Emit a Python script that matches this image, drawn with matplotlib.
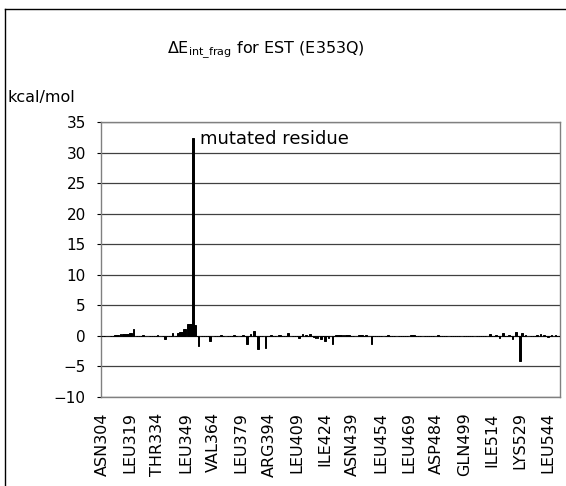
import numpy as np
import matplotlib
matplotlib.use("Agg")
import matplotlib.pyplot as plt
from matplotlib.lines import Line2D

plt.rcParams['font.family'] = ['DejaVu Sans']

# residues on the category axis
first_res = 304
last_res = 550
residues = np.arange(first_res, last_res + 1)

# non-zero interaction energies (kcal/mol)
nonzero_res = [311, 312, 313, 314, 315, 316, 317, 318, 319, 320, 321, 326, 334, 338, 342,
               345, 346, 347, 348, 349, 350, 351, 352, 353, 354, 356, 362, 368, 375, 380,
               382, 384, 386, 388, 392, 395, 399, 400, 404, 410, 412, 414, 416, 418, 419,
               420, 422, 424, 426, 428, 430, 431, 432, 433, 434, 435, 436, 437, 442, 443,
               444, 446, 449, 458, 470, 471, 472, 485, 513, 516, 518, 520, 523, 525, 527,
               529, 530, 532, 538, 540, 542, 544, 546, 548]
nonzero_val = [0.2, 0.2, 0.2, 0.25, 0.25, 0.25, 0.3, 0.3, 0.4, 0.4, 1.1, 0.2, 0.2, -0.5, 0.4,
               0.4, 0.6, 0.6, 1.1, 1.1, 1.9, 1.9, 1.9, 32.4, 1.75, -1.7, -0.9, 0.2, 0.2, 0.2,
               -1.4, 0.3, 0.8, -2.1, -1.9, 0.2, 0.2, 0.2, 0.5, -0.4, 0.3, 0.15, 0.3, -0.2, -0.3,
               -0.3, -0.5, -0.9, -0.3, -1.3, 0.2, 0.2, 0.2, 0.2, 0.2, 0.2, 0.2, 0.2, 0.2, 0.2,
               0.2, 0.2, -1.3, 0.2, 0.2, 0.2, 0.2, 0.2, 0.3, 0.2, -0.3, 0.5, 0.1, -0.5, 0.6,
               -4.1, 0.4, 0.2, 0.2, 0.3, 0.2, -0.2, 0.2, 0.2]

tick_res = [304, 319, 334, 349, 364, 379, 394, 409, 424, 439, 454, 469, 484, 499, 514, 529, 544]
tick_labels = ['ASN304', 'LEU319', 'THR334', 'LEU349', 'VAL364', 'LEU379', 'ARG394', 'LEU409',
               'ILE424', 'ASN439', 'LEU454', 'LEU469', 'ASP484', 'GLN499', 'ILE514', 'LYS529',
               'LEU544']

energy = np.zeros(len(residues))
for r, v in zip(nonzero_res, nonzero_val):
	energy[r - first_res] = v

fig = plt.figure(figsize=(5.66, 4.86), dpi=100)
ax = fig.add_axes([0.1784, 0.1831, 0.8110, 0.5659])

ax.set_axisbelow(True)
ax.yaxis.grid(True, color='#404040', linewidth=0.9)
ax.bar(residues, energy, width=0.9, color='black', edgecolor='black', linewidth=0.7, zorder=3)

ax.set_xlim(first_res - 0.5, last_res + 0.5)
ax.set_ylim(-10, 35)
ax.set_yticks(np.arange(-10, 36, 5))
ax.set_xticks(tick_res)
ax.set_xticklabels(tick_labels, rotation=90, fontsize=11.5)
ax.tick_params(axis='x', length=0, pad=11)
ax.tick_params(axis='y', length=3, labelsize=11, pad=8)
for s in ax.spines.values():
	s.set_color('#808080')
	s.set_linewidth(1.0)

ax.annotate('mutated residue', xy=(353, 32.4), xytext=(5, -1), textcoords='offset points',
            ha='left', va='center', fontsize=13)

fig.text(0.47, 0.897, r'ΔE$_\mathregular{int\_frag}$ for EST (E353Q)', ha='center', va='center', fontsize=11.5)
fig.text(0.014, 0.80, 'kcal/mol', ha='left', va='center', fontsize=11.5)

# outer frame (left and top edges visible)
fig.add_artist(Line2D([0.009, 0.009], [0.0, 0.982], transform=fig.transFigure, color='black', linewidth=1.0))
fig.add_artist(Line2D([0.009, 1.0], [0.982, 0.982], transform=fig.transFigure, color='black', linewidth=1.0))

fig.savefig('out.png', dpi=100)
